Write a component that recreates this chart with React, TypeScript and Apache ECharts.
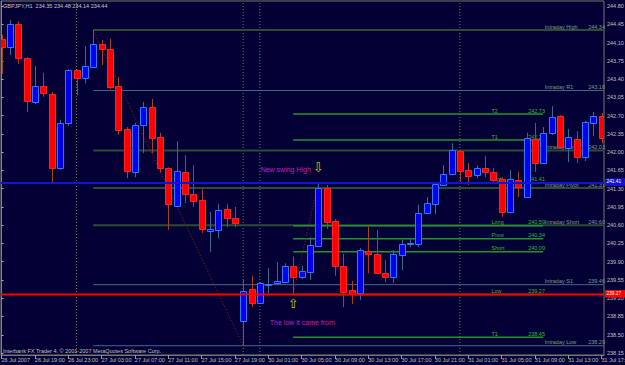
import React, { useEffect, useRef } from "react";
import * as echarts from "echarts";

// ---- candle data (GBPJPY H1, 26 Jul 15:00 .. 31 Jul 17:00) ----
const opens = [244.17, 244.01, 244.46, 243.8, 242.96, 243.27, 243.11, 241.7, 242.56, 243.57, 243.42, 243.63, 244.07, 243.98, 243.27, 242.44, 241.62, 242.52, 242.86, 242.29, 241.7, 240.97, 241.62, 241.2, 241.08, 240.49, 240.51, 240.91, 240.74, 238.76, 239.38, 239.11, 239.46, 239.49, 239.51, 239.82, 239.61, 239.7, 240.2, 241.31, 240.68, 239.82, 239.36, 239.3, 240.1, 240.05, 239.68, 239.61, 240.03, 240.24, 240.24, 240.83, 241.01, 241.37, 241.58, 242.02, 241.66, 241.56, 241.7, 241.62, 241.48, 240.85, 241.47, 241.14, 242.25, 241.79, 242.37, 242.69, 242.08, 242.25, 241.91, 242.56, 242.69];
const highs = [244.25, 244.53, 244.51, 243.82, 243.65, 243.52, 243.15, 242.62, 243.59, 243.58, 244.03, 244.34, 244.15, 244.17, 243.44, 242.48, 242.56, 242.96, 243.02, 242.37, 241.71, 242.21, 241.94, 241.75, 241.29, 240.85, 241.01, 241.01, 240.95, 239.55, 239.63, 239.51, 239.78, 239.89, 239.87, 240.0, 239.82, 240.37, 241.41, 241.37, 240.72, 240.05, 239.53, 240.16, 240.57, 240.51, 239.93, 240.12, 240.32, 240.35, 240.99, 241.14, 241.43, 241.75, 242.17, 242.04, 241.79, 241.75, 241.93, 241.7, 241.52, 241.66, 241.62, 242.37, 242.56, 242.48, 242.88, 242.71, 242.44, 242.4, 242.6, 242.77, 242.75];
const lows = [243.5, 243.86, 243.69, 242.77, 242.92, 243.06, 241.41, 241.66, 242.5, 243.09, 243.32, 243.63, 243.67, 243.21, 242.33, 241.5, 241.52, 241.98, 241.98, 241.6, 240.51, 240.95, 241.02, 240.95, 240.45, 240.09, 240.35, 240.56, 240.56, 238.29, 239.03, 239.09, 239.3, 239.47, 239.49, 239.27, 239.57, 239.55, 240.18, 240.53, 239.63, 239.03, 239.09, 239.17, 239.68, 239.66, 239.51, 239.49, 239.74, 240.18, 240.18, 240.81, 240.81, 241.35, 241.56, 241.43, 241.37, 241.5, 241.52, 241.43, 240.76, 240.83, 241.14, 241.12, 241.62, 241.77, 242.33, 242.08, 241.81, 241.79, 241.83, 242.31, 242.17];
const closes = [244.01, 244.46, 243.8, 242.98, 243.27, 243.13, 241.7, 242.56, 243.57, 243.42, 243.65, 244.07, 243.98, 243.25, 242.42, 241.64, 242.52, 242.86, 242.27, 241.7, 241.01, 241.64, 241.2, 241.06, 240.53, 240.53, 240.89, 240.74, 240.64, 239.34, 239.11, 239.49, 239.48, 239.53, 239.82, 239.61, 239.72, 240.22, 241.31, 240.66, 239.82, 239.32, 239.28, 240.12, 240.05, 239.68, 239.61, 240.05, 240.24, 240.26, 240.83, 241.02, 241.39, 241.58, 242.04, 241.64, 241.54, 241.7, 241.62, 241.47, 240.85, 241.48, 241.33, 242.27, 241.79, 242.37, 242.67, 242.1, 242.29, 241.91, 242.58, 242.69, 242.27];

// ---- axis ticks ----
const xTickIdx = [0, 4, 8, 12, 16, 20, 24, 28, 32, 36, 40, 44, 48, 52, 56, 60, 64, 68, 72];
const xTickLabels = ["26 Jul 2007", "26 Jul 19:00", "26 Jul 23:00", "27 Jul 03:00", "27 Jul 07:00", "27 Jul 11:00", "27 Jul 15:00", "27 Jul 19:00", "30 Jul 01:00", "30 Jul 05:00", "30 Jul 09:00", "30 Jul 13:00", "30 Jul 17:00", "30 Jul 21:00", "31 Jul 01:00", "31 Jul 05:00", "31 Jul 09:00", "31 Jul 13:00", "31 Jul 17:00"];
const yTicks = [238.15, 238.5, 238.85, 239.2, 239.55, 239.9, 240.25, 240.6, 240.95, 241.3, 241.65, 242.0, 242.35, 242.7, 243.05, 243.4, 243.75, 244.1, 244.45, 244.8];

// ---- levels ----
const intradayNames = ["Intraday High", "Intraday R1", "Intraday Long", "Intraday Pivot", "Intraday Short", "Intraday S1", "Intraday Low"];
const intradayValues = [244.34, 243.18, 242.03, 241.31, 240.6, 239.46, 238.29];
const intradayStartIdx = 11;
const targetNames = ["T2", "T1", "High", "Long", "Pivot", "Short", "Low", "T1"];
const targetValues = [242.73, 242.23, 241.41, 240.59, 240.34, 240.09, 239.27, 238.45];
const targetStartIdx = 35;
const targetEndIdx = 65;
const swingHighPrice = 241.41;
const swingLowPrice = 239.27;
const swingDown = [[11, 244.34], [29, 238.29]];
const swingUp = [[35, 239.27], [38, 241.41]];
const separatorIdx = [9, 29, 31, 55];

const titleText = "GBPJPY,H1  234.35 234.48 234.14 234.44";
const footerText = "Interbank FX Trader 4, \u00A9 2001-2007 MetaQuotes Software Corp.";
const annotations = [
  { text: "New swing High", x: 31.1, y: 241.66, color: "#c020c0", size: 7 },
  { text: "The low it came from", x: 32.2, y: 238.74, color: "#c020c0", size: 7 },
];
const arrows = [
  { text: "\u21E9", x: 38, y: 241.7 },
  { text: "\u21E7", x: 35, y: 239.09 },
];

// ---- layout constants ----
const XMIN = -0.06;
const XMAX = 72.3;
const YMAX = 244.896;
const YMIN = 238.112;
const FONT = "Liberation Sans, Arial, sans-serif";
const BG = "#030036";
const intradayColors = ["#2d4c31", "#4a6686", "#2d4c31", "#2d4c31", "#2d4c31", "#4a6686", "#4a6686"];
const intradayWidths = [2, 1, 2, 2, 2, 1, 1];
const NAME_X_INTRA = 65.2;
const VAL_X_INTRA = 70.4;
const NAME_X_T = 58.8;
const VAL_X_T = 63.2;

export default function App() {
  const ref = useRef<HTMLDivElement>(null);

  useEffect(() => {
    if (!ref.current) return;
    const chart = echarts.init(ref.current, null, { renderer: "svg" });
    const candleData = opens.map((o, i) => [i, o, closes[i], lows[i], highs[i]]);

    const lineSeries = (data: number[][], color: string, width: number, type: any = "solid", z = 2) => ({
      type: "line",
      data,
      symbol: "none",
      showSymbol: false,
      silent: true,
      clip: true,
      z,
      lineStyle: { color, width, type },
    });

    const series: any[] = [];
    separatorIdx.forEach((i) => series.push(lineSeries([[i, YMIN], [i, YMAX]], "#7a7a50", 1, [1, 2], 1)));
    intradayValues.forEach((v, k) =>
      series.push(lineSeries([[intradayStartIdx, v], [XMAX, v]], intradayColors[k], intradayWidths[k], "solid", 2))
    );
    targetValues.forEach((v) =>
      series.push(lineSeries([[targetStartIdx, v], [targetEndIdx, v]], "#26932a", 1.5, "solid", 2))
    );
    series.push(lineSeries(swingDown, "#a81818", 1, [1, 2], 3));
    series.push(lineSeries(swingUp, "#a81818", 1, [1, 2], 3));
    series.push({
      type: "custom",
      z: 5,
      clip: true,
      data: candleData,
      encode: { x: 0, y: [1, 2, 3, 4] },
      renderItem: (_p: any, api: any) => {
        const i = api.value(0);
        const o = api.value(1);
        const c = api.value(2);
        const l = api.value(3);
        const h = api.value(4);
        const pO = api.coord([i, o]);
        const pC = api.coord([i, c]);
        const pH = api.coord([i, h]);
        const pL = api.coord([i, l]);
        const up = c >= o;
        const xc = Math.round(pO[0]) + 0.5;
        const top = Math.round(Math.min(pO[1], pC[1])) + 0.5;
        const bot = Math.round(Math.max(pO[1], pC[1])) + 0.5;
        return {
          type: "group",
          children: [
            {
              type: "line",
              shape: { x1: xc, y1: pH[1], x2: xc, y2: pL[1] },
              style: { stroke: up ? "#3d6a8c" : "#a8401c", lineWidth: 1 },
            },
            {
              type: "rect",
              shape: { x: xc - 3, y: top, width: 6, height: Math.max(bot - top, 1) },
              style: { fill: up ? "#0000ee" : "#ff0000", stroke: up ? "#2a7bff" : "#ff2424", lineWidth: 1 },
            },
          ],
        };
      },
    });
    series.push(lineSeries([[XMIN, swingHighPrice], [XMAX, swingHighPrice]], "#1414d0", 2, "solid", 6));
    series.push(lineSeries([[XMIN, swingLowPrice], [XMAX, swingLowPrice]], "#ff0000", 2, "solid", 6));

    chart.setOption({
      animation: false,
      backgroundColor: BG,
      grid: {
        left: 1,
        right: 21,
        top: 1,
        bottom: 10,
        show: true,
        borderColor: "#77776a",
        borderWidth: 1,
        backgroundColor: "transparent",
        containLabel: false,
        outerBoundsMode: "none",
      },
      xAxis: {
        type: "value",
        min: XMIN,
        max: XMAX,
        splitLine: { show: false },
        axisLine: { show: true, lineStyle: { color: "#77776a" } },
        axisTick: { show: true, customValues: xTickIdx, length: 4, lineStyle: { color: "#9a9a9a" } },
        axisLabel: {
          customValues: xTickIdx,
          formatter: (v: number) => xTickLabels[xTickIdx.indexOf(Math.round(v))] ?? "",
          align: "left",
          margin: 2,
          color: "#c0c0c0",
          fontSize: 5.5,
          fontFamily: FONT,
        },
      },
      yAxis: {
        type: "value",
        position: "right",
        min: YMIN,
        max: YMAX,
        splitLine: { show: false },
        axisLine: { show: true, lineStyle: { color: "#8a8a6a" } },
        axisTick: { show: true, customValues: yTicks, length: 2, lineStyle: { color: "#b0b0b0" } },
        axisLabel: {
          customValues: yTicks,
          formatter: (v: number) => v.toFixed(2),
          margin: 3,
          color: "#c0c0c0",
          fontSize: 5.5,
          fontFamily: FONT,
        },
      },
      series,
    });

    const px = (x: number, y: number) => chart.convertToPixel({ gridIndex: 0 } as any, [x, y]) as number[];
    const g: any[] = [];
    const txt = (x: number, y: number, text: string, fill: string, size: number, z: number, align = "left", va = "bottom") => ({
      type: "text",
      x,
      y,
      z,
      silent: true,
      style: { text, fill, fontSize: size, fontFamily: FONT, align, verticalAlign: va },
    });
    intradayValues.forEach((v, k) => {
      const a = px(NAME_X_INTRA, v);
      const b = px(VAL_X_INTRA, v);
      g.push(txt(a[0], a[1] - 0.5, intradayNames[k], "#7f9a88", 5.5, 3));
      g.push(txt(b[0], b[1] - 0.5, v.toFixed(2), "#7f9a88", 5.5, 3));
    });
    targetValues.forEach((v, k) => {
      const a = px(NAME_X_T, v);
      const b = px(VAL_X_T, v);
      g.push(txt(a[0], a[1] - 0.5, targetNames[k], "#33b833", 5.5, 3));
      g.push(txt(b[0], b[1] - 0.5, v.toFixed(2), "#33b833", 5.5, 3));
    });
    annotations.forEach((a) => {
      const p = px(a.x, a.y);
      g.push(txt(p[0], p[1], a.text, a.color, a.size, 8, "left", "middle"));
    });
    arrows.forEach((a) => {
      const p = px(a.x, a.y);
      g.push({
        type: "text",
        x: p[0],
        y: p[1],
        z: 8,
        silent: true,
        style: { text: a.text, fill: "#c8c800", fontSize: 13, fontFamily: "DejaVu Sans", align: "center", verticalAlign: "middle" },
      });
    });
    [
      { v: swingHighPrice, c: "#1414d0" },
      { v: swingLowPrice, c: "#ff0000" },
    ].forEach((b) => {
      const p = px(XMAX, b.v);
      g.push({ type: "rect", z: 10, silent: true, shape: { x: p[0] + 1, y: p[1] - 4.5, width: 20, height: 7.5 }, style: { fill: b.c } });
      g.push(txt(p[0] + 2.5, p[1] - 1.5, b.v.toFixed(2), "#ffffff", 4.8, 11, "left", "middle"));
    });
    g.push(txt(3, 3, titleText, "#c8c8c8", 5.5, 9, "left", "top"));
    g.push(txt(3, 347.5, footerText, "#c0c0c0", 5.5, 9, "left", "top"));
    chart.setOption({ graphic: g });

    return () => chart.dispose();
  }, []);

  return <div ref={ref} style={{ position: "fixed", left: 0, top: 0, width: 625, height: 365 }} />;
}
